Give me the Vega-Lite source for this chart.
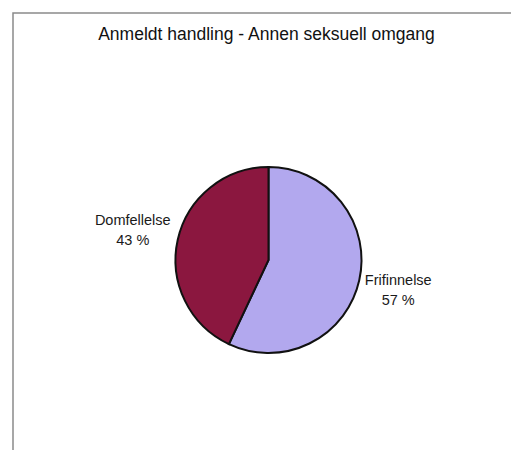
{
  "$schema": "https://vega.github.io/schema/vega-lite/v6.json",
  "width": 511,
  "height": 494,
  "autosize": {"type": "none"},
  "padding": {"left": 13, "top": 13, "right": 0, "bottom": 0},
  "background": "white",
  "config": {
    "view": {"stroke": null},
    "font": "Liberation Sans"
  },
  "title": {
    "text": "Anmeldt handling - Annen seksuell omgang",
    "font": "Liberation Sans",
    "fontSize": 17.5,
    "fontWeight": "normal",
    "color": "#111111",
    "baseline": "alphabetic",
    "offset": 0,
    "dy": 45,
    "dx": -2
  },
  "layer": [
    {
      "data": {"values": [{"fra": 0, "til": 1}]},
      "mark": {"type": "rect", "fill": null, "stroke": "#8a8a8a", "strokeWidth": 1.5},
      "encoding": {
        "x": {"field": "fra", "type": "quantitative", "scale": {"domain": [0, 1], "nice": false}, "axis": null},
        "x2": {"field": "til"},
        "y": {"field": "til", "type": "quantitative", "scale": {"domain": [0, 1], "nice": false}, "axis": null},
        "y2": {"field": "fra"}
      }
    },
    {
      "data": {
        "values": [
          {"kategori": "Frifinnelse", "andel": 57, "etikett": "Frifinnelse\n57 %"},
          {"kategori": "Domfellelse", "andel": 43, "etikett": "Domfellelse\n43 %"}
        ]
      },
      "encoding": {
        "theta": {"field": "andel", "type": "quantitative", "stack": true},
        "order": {"field": "andel", "type": "quantitative", "sort": "descending"}
      },
      "layer": [
        {
          "mark": {"type": "arc", "outerRadius": 93, "stroke": "#111111", "strokeWidth": 2},
          "encoding": {
            "color": {
              "field": "kategori",
              "type": "nominal",
              "scale": {"domain": ["Frifinnelse", "Domfellelse"], "range": ["#b2a8ee", "#8b173f"]},
              "legend": null
            }
          }
        },
        {
          "mark": {
            "type": "text",
            "radius": 136,
            "fontSize": 14.5,
            "font": "Liberation Sans",
            "color": "#1a1a1a",
            "align": "center",
            "baseline": "middle",
            "lineBreak": "\n",
            "lineHeight": 20,
            "dx": -3,
            "dy": -9
          },
          "encoding": {
            "text": {"field": "etikett", "type": "nominal"}
          }
        }
      ]
    }
  ]
}
